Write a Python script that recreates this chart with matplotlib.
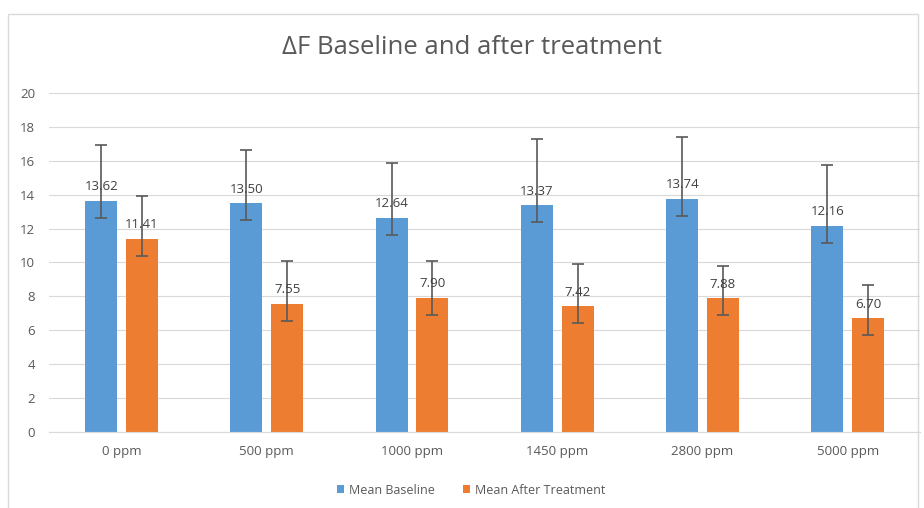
import matplotlib.pyplot as plt
import numpy as np
from matplotlib.patches import Rectangle

plt.rcParams['font.family'] = ['Open Sans', 'DejaVu Sans']

categories = ["0 ppm", "500 ppm", "1000 ppm", "1450 ppm", "2800 ppm", "5000 ppm"]
baseline = [13.62, 13.50, 12.64, 13.37, 13.74, 12.16]
after = [11.41, 7.55, 7.90, 7.42, 7.88, 6.70]
baseline_err_up = [3.30, 3.16, 3.21, 3.90, 3.65, 3.59]
baseline_err_down = [1.0, 1.0, 1.0, 1.0, 1.0, 1.0]
after_err_up = [2.53, 2.54, 2.19, 2.47, 1.91, 1.99]
after_err_down = [1.0, 1.0, 1.0, 1.0, 1.0, 1.0]

blue = "#5B9BD5"
orange = "#ED7D31"
text_gray = "#595959"
grid_gray = "#D9D9D9"

fig = plt.figure(figsize=(9.24, 5.08), dpi=100)
fig.patch.set_facecolor("white")
# chart frame (open at the bottom edge of the image)
fig.patches.append(Rectangle((8 / 924, -0.05), (918 - 8) / 924, 1.05 - 14 / 508,
                             transform=fig.transFigure, fill=False,
                             edgecolor="#D9D9D9", lw=1.0))

ax = fig.add_axes([0.053, 0.1496, 0.943, 0.6674])
x = np.arange(len(categories))
w = 0.22
gap = 0.06
off = (w + gap) / 2

err_kw = dict(ecolor="#595959", elinewidth=1.2, capsize=4, capthick=1.2)
b1 = ax.bar(x - off, baseline, w, color=blue, label="Mean Baseline",
            yerr=[baseline_err_down, baseline_err_up], error_kw=err_kw, zorder=2)
b2 = ax.bar(x + off, after, w, color=orange, label="Mean After Treatment",
            yerr=[after_err_down, after_err_up], error_kw=err_kw, zorder=2)

for bars, vals in ((b1, baseline), (b2, after)):
    for rect, v in zip(bars, vals):
        ax.annotate(f"{v:.2f}", (rect.get_x() + rect.get_width() / 2, v),
                    xytext=(0, 5.5), textcoords="offset points",
                    ha="center", va="bottom", fontsize=9.5, color="#404040", zorder=3)

ax.set_xlim(-0.5, len(categories) - 0.5)
ax.set_ylim(0, 20)
ax.set_yticks(np.arange(0, 21, 2))
ax.set_xticks(x)
ax.set_xticklabels(categories)
ax.tick_params(axis="both", length=0, labelsize=9.5, colors=text_gray)
ax.tick_params(axis="x", pad=9)
ax.tick_params(axis="y", pad=10)
ax.yaxis.grid(True, color=grid_gray, lw=0.8, zorder=0)
ax.set_axisbelow(True)
for s in ("top", "right", "left"):
    ax.spines[s].set_visible(False)
ax.spines["bottom"].set_color(grid_gray)
ax.spines["bottom"].set_linewidth(0.8)

fig.text(0.511, 1 - 48 / 508, "ΔF Baseline and after treatment",
         ha="center", va="center", fontsize=18.5, color=text_gray)

fig.legend(handles=[b1, b2], loc="center", bbox_to_anchor=(0.51, 1 - 490 / 508),
           ncol=2, frameon=False, fontsize=9, labelcolor=text_gray,
           handlelength=0.6, handleheight=0.6, handletextpad=0.4, columnspacing=2.2)

fig.savefig("out.png", dpi=100, facecolor="white")
